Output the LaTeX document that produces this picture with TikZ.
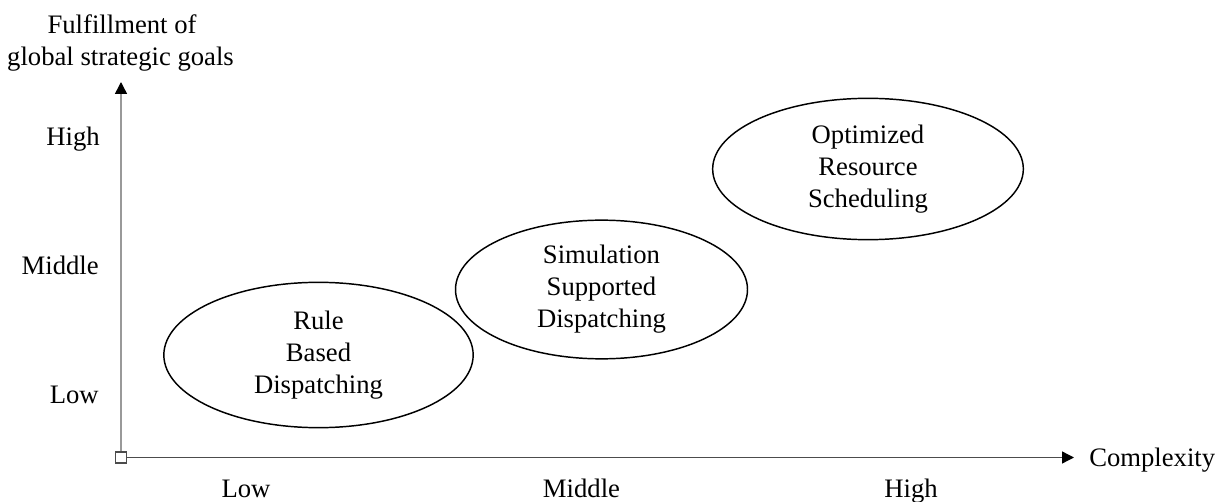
\documentclass[tikz,border=0pt]{standalone}
\usepackage{fontspec}
\setmainfont{Liberation Serif}
\usetikzlibrary{shapes.geometric,arrows.meta}
\begin{document}
\begin{tikzpicture}[x=0.75pt,y=-0.75pt,
  lbl/.style={font=\fontsize{20}{24}\selectfont, inner sep=0pt},
  blob/.style={draw=black, line width=1.1pt, ellipse, inner sep=0pt, font=\fontsize{20}{24}\selectfont, align=center},
  arr/.style={-{Triangle[length=9pt,width=9pt,color=black]}}]
\useasboundingbox (0,0) rectangle (1224,502);
% origin
\node (o) [draw=black!70, line width=0.9pt, minimum size=8.2pt, inner sep=0pt] at (121,457.5) {};
\coordinate (ytip) at (121,82);
\coordinate (xtip) at (1074,457.5);
\draw[arr, draw=black!40, line width=1.1pt] (o.north) -- (ytip);
\draw[arr, draw=black!70, line width=1pt] (o.east) -- (xtip);
% axis titles
\node (ttl1) [lbl, anchor=base] at (122,34) {Fulfillment of};
\node (ttl2) [lbl, anchor=base] at (120.5,66) {global strategic goals};
\node (cx) [lbl, anchor=base west] at (1089,466) {Complexity};
% y labels
\node (yh) [lbl, anchor=base east] at (100,146) {High};
\node (ym) [lbl, anchor=base east] at (99,275) {Middle};
\node (yl) [lbl, anchor=base east] at (99,403) {Low};
% x labels
\node (xl) [lbl, anchor=base] at (246,497) {Low};
\node (xm) [lbl, anchor=base] at (581.5,497) {Middle};
\node (xh) [lbl, anchor=base] at (911,497) {High};
% ellipses
\node (rule) [blob, minimum width=232pt, minimum height=109pt] at (318.5,355) {Rule\\Based\\Dispatching};
\node (sim) [blob, minimum width=219pt, minimum height=104pt] at (601.5,289.5) {Simulation\\Supported\\Dispatching};
\node (opt) [blob, minimum width=233pt, minimum height=106pt] at (868,169) {Optimized\\Resource\\Scheduling};
\end{tikzpicture}
\end{document}
